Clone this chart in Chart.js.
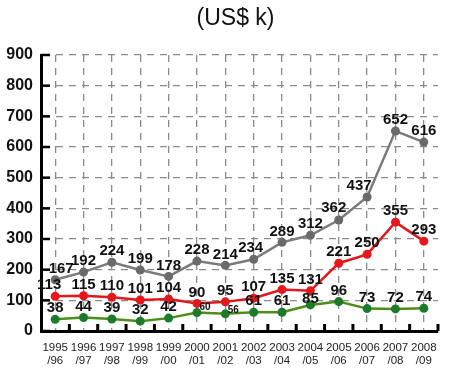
<!DOCTYPE html>
<html>
<head>
<meta charset="utf-8">
<script src="https://cdn.jsdelivr.net/npm/chart.js@4.4.1/dist/chart.umd.min.js"></script>
<style>
  html, body { margin: 0; padding: 0; background: #fff; }
  #wrap { width: 450px; height: 374px; position: relative; }
</style>
</head>
<body>
<div id="wrap"><canvas id="costChart"></canvas></div>
<script>
// -----------------------------
// Data
// -----------------------------
const categories = ['1995/96','1996/97','1997/98','1998/99','1999/00','2000/01','2001/02',
                    '2002/03','2003/04','2004/05','2005/06','2006/07','2007/08','2008/09'];
const totalValues = [167, 192, 224, 199, 178, 228, 214, 234, 289, 312, 362, 437, 652, 616];
const redValues   = [113, 115, 110, 101, 104, 90, 95, 107, 135, 131, 221, 250, 355, 293];
const greenValues = [38, 44, 39, 32, 42, 60, 56, 61, 61, 85, 96, 73, 72, 74];
const yTicks = [0, 100, 200, 300, 400, 500, 600, 700, 800, 900];
const titleText = '(US$ k)';

// label nudges: "dataset-index" -> [dx, dy, small]
const labelNudge = {
    '0-0': [6, -11], '0-7': [-3, -11], '0-10': [-5, -12], '0-11': [-8, -11],
    '1-0': [-6, -11],
    '2-5': [8, -5, true], '2-6': [8, -4, true], '2-9': [0, -6]
};

const FONT = 'Arial, "Liberation Sans", sans-serif';

// value labels above points
const valueLabels = {
    id: 'valueLabels',
    afterDatasetsDraw(chart) {
        const ctx = chart.ctx;
        ctx.save();
        ctx.fillStyle = '#111';
        ctx.textAlign = 'center';
        ctx.textBaseline = 'middle';
        chart.data.datasets.forEach((ds, di) => {
            const meta = chart.getDatasetMeta(di);
            meta.data.forEach((pt, i) => {
                const n = labelNudge[di + '-' + i] || [0, -11];
                ctx.font = n[2] ? 'bold 10px ' + FONT : 'bold 15px ' + FONT;
                ctx.fillText(String(ds.data[i]), pt.x + n[0], pt.y + n[1]);
            });
        });
        ctx.restore();
    }
};

// title + inner tick marks
const decorations = {
    id: 'decorations',
    afterDraw(chart) {
        const ctx = chart.ctx;
        const area = chart.chartArea;
        const xs = chart.scales.x, ys = chart.scales.y;
        ctx.save();
        ctx.fillStyle = '#111';
        ctx.font = '23px ' + FONT;
        ctx.textAlign = 'center';
        ctx.textBaseline = 'middle';
        ctx.fillText(titleText, (area.left + area.right) / 2 - 4, 19);

        ctx.strokeStyle = '#000';
        ctx.lineWidth = 2.5;
        yTicks.forEach(v => {
            const y = ys.getPixelForValue(v);
            ctx.beginPath();
            ctx.moveTo(area.left, y);
            ctx.lineTo(area.left + 9, y);
            ctx.stroke();
        });
        ctx.lineWidth = 3;
        for (let i = 1; i <= categories.length; i++) {
            const x = xs.getPixelForValue(i - 0.5);
            ctx.beginPath();
            ctx.moveTo(x, area.bottom);
            ctx.lineTo(x, area.bottom - 7);
            ctx.stroke();
        }
        ctx.restore();
    }
};

const costCtx = document.getElementById('costChart').getContext('2d');
new Chart(costCtx, {
    type: 'line',
    data: {
        labels: categories.map(c => [c.slice(0, 4), c.slice(4)]),
        datasets: [
            {
                data: totalValues,
                borderColor: '#7b7b7b',
                backgroundColor: '#6a6a6a',
                borderWidth: 2.5,
                pointRadius: 4.5,
                pointBorderWidth: 0,
                tension: 0
            },
            {
                data: redValues,
                borderColor: '#e5161c',
                backgroundColor: '#e5161c',
                borderWidth: 2.5,
                pointRadius: 4.5,
                pointBorderWidth: 0,
                tension: 0
            },
            {
                data: greenValues,
                borderColor: '#4f8d1a',
                backgroundColor: '#1c7a2c',
                borderWidth: 2.5,
                pointRadius: 4.5,
                pointBorderWidth: 0,
                tension: 0
            }
        ]
    },
    options: {
        responsive: true,
        maintainAspectRatio: false,
        animation: false,
        layout: { padding: { top: 55, right: 12, bottom: 0, left: 0 } },
        plugins: {
            legend: { display: false },
            tooltip: { enabled: false }
        },
        scales: {
            x: {
                offset: true,
                grid: { color: '#8a8a8a', lineWidth: 1.3, drawTicks: false, offset: false },
                border: { display: true, color: '#000', width: 3, dash: [7, 6] },
                ticks: {
                    padding: 10,
                    color: '#222',
                    maxRotation: 0,
                    autoSkip: false,
                    font: { family: FONT, size: 11.5, lineHeight: 1.15 }
                },
                afterFit(scale) { scale.height = 43; }
            },
            y: {
                min: 0,
                max: 900,
                afterBuildTicks(scale) { scale.ticks = yTicks.map(v => ({ value: v })); },
                grid: { color: '#8a8a8a', lineWidth: 1.3, drawTicks: false },
                border: { display: true, color: '#000', width: 3, dash: [7, 6] },
                ticks: {
                    padding: 8,
                    color: '#111',
                    font: { family: FONT, size: 16, weight: 'bold' }
                },
                afterFit(scale) { scale.width = 41; }
            }
        }
    },
    plugins: [valueLabels, decorations]
});
</script>
</body>
</html>
